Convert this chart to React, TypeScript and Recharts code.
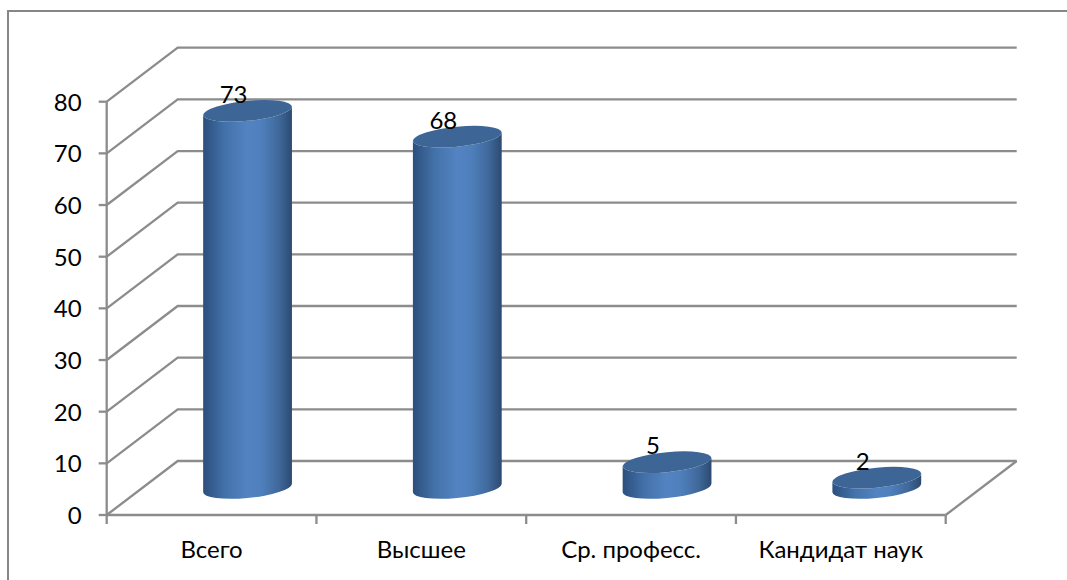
import { BarChart, Bar, XAxis, YAxis, CartesianGrid, LabelList } from "recharts";

const categories = ["Всего", "Высшее", "Ср. професс.", "Кандидат наук"];
const values = [73, 68, 5, 2];
const yTicks = [0, 10, 20, 30, 40, 50, 60, 70, 80];

const chartData = categories.map((name, i) => ({ name, value: values[i] }));

const FONT = "Lato, 'Open Sans', sans-serif";
const GRID = "#8c8c8c";
const DEPTH_X = 71;
const DEPTH_Y = 54;
const AXIS_Y = 515;
const BAND = 209.75;
const RX = 44.4;
const RY = 10;

// 3d wall: front point, up the side wall, then along the back wall
function WallLine(props: any) {
  const { x1, y1, x2 } = props;
  const backY = y1 - DEPTH_Y;
  return (
    <g>
      <polyline
        points={`${x1},${y1} ${x1 + DEPTH_X},${backY} ${x2 + DEPTH_X},${backY}`}
        fill="none"
        stroke={GRID}
        strokeWidth={2.3}
      />
      {Math.abs(y1 - AXIS_Y) < 1 && (
        <line x1={x2} y1={y1} x2={x2 + DEPTH_X} y2={backY} stroke={GRID} strokeWidth={2.3} />
      )}
    </g>
  );
}

function Cylinder(props: any) {
  const { x, y, width, height } = props;
  const cx = x + width / 2 + DEPTH_X / 2;
  const top = y - DEPTH_Y / 2;
  const bottom = y + height - DEPTH_Y / 2;
  return (
    <g transform={`translate(${cx},0) skewY(-5.4)`}>
      <path
        d={`M${-RX},${top} L${-RX},${bottom} A${RX},${RY} 0 0 0 ${RX},${bottom} L${RX},${top} A${RX},${RY} 0 0 1 ${-RX},${top} Z`}
        fill="url(#cylinderBody)"
      />
      <ellipse cx={0} cy={top} rx={RX} ry={RY} fill="#3d6595" />
    </g>
  );
}

function CylinderLabel(props: any) {
  const { x, y, width, value } = props;
  return (
    <text
      x={x + width / 2 + DEPTH_X / 2 - 14}
      y={y - DEPTH_Y / 2 - 8}
      textAnchor="middle"
      fontFamily={FONT}
      fontSize={24}
      fill="#000"
    >
      {value}
    </text>
  );
}

function CategoryTick(props: any) {
  const { x, payload, index } = props;
  return (
    <g>
      {index === 0 && (
        <line x1={x - BAND / 2} y1={AXIS_Y} x2={x - BAND / 2} y2={AXIS_Y + 9} stroke={GRID} strokeWidth={2.3} />
      )}
      <line x1={x + BAND / 2} y1={AXIS_Y} x2={x + BAND / 2} y2={AXIS_Y + 9} stroke={GRID} strokeWidth={2.3} />
      <text x={x} y={558} textAnchor="middle" fontFamily={FONT} fontSize={24} fill="#000">
        {payload.value}
      </text>
    </g>
  );
}

function ValueTick(props: any) {
  const { x, y, payload } = props;
  return (
    <text x={x} y={y + 9} textAnchor="end" fontFamily={FONT} fontSize={24} fill="#000">
      {payload.value}
    </text>
  );
}

export default function App() {
  return (
    <div style={{ position: "absolute", left: 0, top: 0, width: 1067, height: 580, background: "#fff", overflow: "hidden" }}>
      <div
        style={{
          position: "absolute",
          left: 7,
          top: 10,
          right: 0,
          bottom: 0,
          borderLeft: "2px solid #868686",
          borderTop: "2px solid #868686",
        }}
      />
      <BarChart
        width={1067}
        height={580}
        data={chartData}
        margin={{ top: 101.7, right: 121.3, bottom: 5, left: 46.7 }}
        barSize={88.7}
        style={{ position: "absolute", left: 0, top: 0 }}
      >
        <defs>
          <linearGradient id="cylinderBody" x1="0" y1="0" x2="1" y2="0">
            <stop offset="0%" stopColor="#2c4f7d" />
            <stop offset="25%" stopColor="#4372aa" />
            <stop offset="50%" stopColor="#5383c2" />
            <stop offset="65%" stopColor="#4f80bc" />
            <stop offset="85%" stopColor="#40699c" />
            <stop offset="100%" stopColor="#2c4a70" />
          </linearGradient>
        </defs>
        <CartesianGrid horizontal={WallLine} vertical={false} />
        <XAxis
          dataKey="name"
          height={60}
          interval={0}
          tickLine={false}
          axisLine={{ stroke: GRID, strokeWidth: 2.3 }}
          tick={CategoryTick}
        />
        <YAxis
          width={60}
          domain={[0, 80]}
          ticks={yTicks}
          tickSize={8}
          tickMargin={17}
          interval={0}
          axisLine={{ stroke: GRID, strokeWidth: 2.3 }}
          tickLine={{ stroke: GRID, strokeWidth: 2.3 }}
          tick={ValueTick}
        />
        <Bar dataKey="value" isAnimationActive={false} shape={Cylinder}>
          <LabelList dataKey="value" content={CylinderLabel} />
        </Bar>
      </BarChart>
    </div>
  );
}
